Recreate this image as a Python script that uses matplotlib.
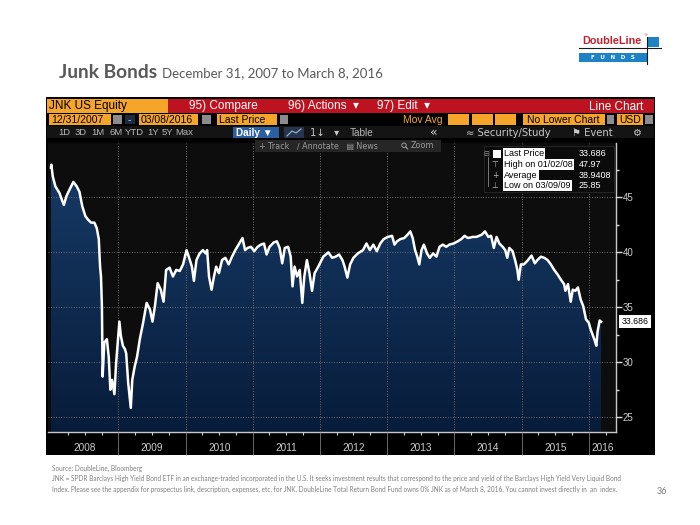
import matplotlib
matplotlib.use('Agg')
import matplotlib.pyplot as plt
import matplotlib.dates as mdates
import matplotlib.transforms as mtransforms
from matplotlib.patches import Rectangle, Circle
from matplotlib.colors import LinearSegmentedColormap
from matplotlib.ticker import AutoMinorLocator
import numpy as np
import pandas as pd

# JNK last price
dates = [
    '2007-12-31', '2008-01-02', '2008-01-10', '2008-01-24', '2008-02-15', '2008-03-10',
    '2008-03-24', '2008-04-10', '2008-05-01', '2008-05-19', '2008-06-03', '2008-06-18',
    '2008-07-05', '2008-07-18', '2008-08-05', '2008-08-23', '2008-09-05', '2008-09-16',
    '2008-09-23', '2008-09-28', '2008-10-03', '2008-10-07', '2008-10-16', '2008-10-30',
    '2008-11-09', '2008-11-18', '2008-11-27', '2008-12-10', '2008-12-19', '2009-01-06',
    '2009-01-14', '2009-01-25', '2009-02-05', '2009-02-12', '2009-02-23', '2009-03-09',
    '2009-03-17', '2009-03-30', '2009-04-12', '2009-04-27', '2009-05-15', '2009-06-03',
    '2009-06-21', '2009-07-05', '2009-07-18', '2009-08-02', '2009-08-19', '2009-09-03',
    '2009-09-17', '2009-10-06', '2009-10-24', '2009-11-11', '2009-11-30', '2009-12-18',
    '2010-01-06', '2010-01-22', '2010-02-04', '2010-02-15', '2010-03-01', '2010-03-18',
    '2010-04-05', '2010-04-20', '2010-04-28', '2010-05-08', '2010-05-22', '2010-06-04',
    '2010-06-16', '2010-07-01', '2010-07-18', '2010-08-05', '2010-08-23', '2010-09-10',
    '2010-09-28', '2010-10-16', '2010-11-06', '2010-11-20', '2010-12-04', '2010-12-22',
    '2011-01-09', '2011-01-27', '2011-02-14', '2011-03-03', '2011-03-17', '2011-04-02',
    '2011-04-25', '2011-05-12', '2011-05-27', '2011-06-10', '2011-06-24', '2011-07-12',
    '2011-07-26', '2011-08-05', '2011-08-16', '2011-08-30', '2011-09-13', '2011-09-27',
    '2011-10-08', '2011-10-22', '2011-11-05', '2011-11-19', '2011-12-03', '2011-12-23',
    '2012-01-19', '2012-02-16', '2012-03-07', '2012-03-26', '2012-04-14', '2012-05-02',
    '2012-05-14', '2012-05-29', '2012-06-13', '2012-07-01', '2012-07-25', '2012-08-22',
    '2012-09-10', '2012-09-28', '2012-10-17', '2012-11-05', '2012-11-24', '2012-12-12',
    '2013-01-04', '2013-01-27', '2013-02-09', '2013-02-23', '2013-03-13', '2013-04-03',
    '2013-04-21', '2013-05-06', '2013-05-19', '2013-06-01', '2013-06-13', '2013-06-24',
    '2013-07-06', '2013-07-19', '2013-08-05', '2013-08-20', '2013-09-07', '2013-09-25',
    '2013-10-12', '2013-10-30', '2013-11-17', '2013-12-05', '2013-12-27', '2014-01-19',
    '2014-02-07', '2014-02-25', '2014-03-15', '2014-04-11', '2014-05-01', '2014-05-29',
    '2014-06-16', '2014-07-04', '2014-07-19', '2014-08-03', '2014-08-18', '2014-09-02',
    '2014-09-20', '2014-10-04', '2014-10-15', '2014-10-26', '2014-11-13', '2014-11-28',
    '2014-12-09', '2014-12-16', '2014-12-28', '2015-01-13', '2015-01-31', '2015-02-24',
    '2015-03-14', '2015-03-28', '2015-04-16', '2015-05-04', '2015-05-22', '2015-06-09',
    '2015-06-27', '2015-07-15', '2015-08-03', '2015-08-20', '2015-08-27', '2015-09-10',
    '2015-09-25', '2015-10-06', '2015-10-20', '2015-11-03', '2015-11-18', '2015-12-02',
    '2015-12-17', '2016-01-01', '2016-01-11', '2016-01-22', '2016-02-02', '2016-02-11',
    '2016-02-18', '2016-02-29', '2016-03-08',
]
prices = [
    47.7, 47.97, 46.9, 46.0, 45.4, 44.3,
    45.1, 45.7, 46.4, 46.0, 45.5, 44.2,
    43.3, 43.0, 42.7, 42.7, 42.2, 41.2,
    38.7, 37.8, 35.1, 28.7, 31.8, 32.1,
    30.5, 27.5, 28.4, 27.1, 29.9, 33.7,
    32.4, 31.5, 31.2, 30.8, 28.1, 25.85,
    28.4, 29.6, 30.5, 32.1, 33.6, 35.4,
    34.8, 33.7, 35.1, 37.2, 36.6, 35.5,
    38.4, 38.6, 37.8, 38.4, 38.3, 38.9,
    40.2, 39.4, 38.7, 37.4, 39.3, 39.9,
    40.2, 39.9, 40.2, 37.8, 36.6, 37.8,
    38.7, 38.1, 39.3, 39.5, 38.9, 39.6,
    40.2, 40.7, 41.3, 40.2, 40.4, 40.5,
    40.1, 40.5, 40.7, 40.8, 39.8, 40.5,
    40.9, 41.0, 40.4, 39.0, 40.4, 40.5,
    39.6, 36.9, 38.7, 37.8, 38.4, 35.4,
    37.8, 39.3, 38.1, 36.5, 38.1, 38.7,
    39.6, 40.0, 39.5, 39.6, 39.8, 39.3,
    38.7, 37.7, 38.9, 39.5, 39.9, 40.2,
    40.8, 40.2, 40.7, 40.1, 40.8, 41.2,
    41.4, 41.5, 40.7, 41.0, 41.2, 41.3,
    41.6, 41.9, 41.3, 40.2, 39.6, 38.9,
    40.2, 40.7, 39.9, 39.5, 39.9, 39.6,
    40.5, 40.7, 40.5, 40.7, 40.8, 41.0,
    41.2, 41.5, 41.3, 41.4, 41.4, 41.6,
    41.9, 41.4, 41.5, 40.4, 41.4, 40.8,
    40.5, 40.2, 39.5, 40.4, 40.1, 39.2,
    38.4, 37.5, 38.9, 38.9, 39.2, 39.7,
    39.0, 39.3, 39.6, 39.5, 39.3, 38.9,
    38.4, 38.0, 37.5, 37.1, 36.5, 37.1,
    35.5, 36.6, 36.5, 36.8, 35.7, 35.1,
    33.9, 33.6, 33.0, 32.5, 32.0, 31.5,
    32.8, 33.8, 33.686,
]

years = ['2008', '2009', '2010', '2011', '2012', '2013', '2014', '2015', '2016']
y_ticks = [25, 30, 35, 40, 45]

legend_labels = ['Last Price', 'High on 01/02/08', 'Average', 'Low on 03/09/09']
legend_values = ['33.686', '47.97', '38.9408', '25.85']

footnote = [
    'Source: DoubleLine, Bloomberg',
    'JNK = SPDR Barclays High Yield Bond ETF in an exchange-traded incorporated in the U.S. It seeks investment '
    'results that correspond to the price and yield of the Barclays High Yield Very Liquid Bond',
    'Index. Please see the appendix for prospectus link, description, expenses, etc. for JNK. DoubleLine Total '
    'Return Bond Fund owns 0% JNK as of March 8, 2016. You cannot invest directly in  an  index.',
]

ORANGE = '#f6a52b'
RED = '#bd1320'
GREY_BOX = '#8c8c8c'
UI_FONT = ['Liberation Sans', 'DejaVu Sans']

fig = plt.figure(figsize=(7, 5.25), dpi=100)
fig.patch.set_facecolor('white')

# pixel-space layer for the slide and the terminal chrome
ui = fig.add_axes([0, 0, 1, 1], zorder=0)
ui.set_xlim(0, 700)
ui.set_ylim(525, 0)
ui.axis('off')


def box(x, y, w, h, color, text=None, tcolor='black', size=7.5, tx=None, weight='normal', layer=None):
    layer = ui if layer is None else layer
    layer.add_patch(Rectangle((x, y), w, h, facecolor=color, edgecolor='none'))
    if text:
        layer.text(x + 2 if tx is None else tx, y + h / 2 + 0.5, text, color=tcolor, fontsize=size,
                   ha='left', va='center', family=UI_FONT, weight=weight)


# --- slide title ---
ui.text(59, 72, 'Junk Bonds', fontsize=13.8, weight='bold', color='#595959', family='Lato', va='center')
ui.text(162, 73.5, 'December 31, 2007 to March 8, 2016', fontsize=9.5, color='#595959', family='Lato', va='center')

# --- DoubleLine logo ---
ui.text(582, 41, 'DoubleLine', fontsize=7.8, weight='bold', color='#c3202e', family='Liberation Sans', va='center')
ui.text(643, 35.5, '®', fontsize=3, color='#c3202e', va='center')
ui.add_patch(Rectangle((579, 53), 68, 9, facecolor='#1d83c6', edgecolor='none'))
ui.add_patch(Rectangle((648, 37), 11, 10, facecolor='#1d83c6', edgecolor='none'))
ui.plot([579, 661], [48, 48], color='#1a1a1a', lw=0.8)
ui.plot([647, 647], [37, 64], color='#1a1a1a', lw=0.8)
ui.text(613, 57.8, 'F   U   N   D   S', fontsize=4, color='white', ha='center', va='center', weight='bold')

# --- terminal panel ---
box(46, 97, 609, 358, 'black')

# row 1
box(47, 99, 121, 14, ORANGE, 'JNK US Equity', size=8.5)
box(168, 99, 486, 14, RED)
for lab, lx in [('95) Compare', 189), ('96) Actions  \u25be', 288), ('97) Edit  \u25be', 377)]:
    ui.text(lx, 106.5, lab, color='white', fontsize=8.5, va='center', family=UI_FONT)
ui.text(643, 106.5, 'Line Chart', color='white', fontsize=8.5, va='center', ha='right', family=UI_FONT)

# row 2
box(49, 114, 62, 11, ORANGE, '12/31/2007')
box(113, 115, 9, 9, GREY_BOX)
box(125, 115, 10, 9, '#1c2a44', '-', tcolor='#cccccc', tx=128)
box(139, 114, 59, 11, ORANGE, '03/08/2016')
box(202, 115, 9, 9, GREY_BOX)
box(217, 114, 60, 11, ORANGE, 'Last Price')
box(280, 115, 8, 9, GREY_BOX)
ui.text(403, 120, 'Mov Avg', color=ORANGE, fontsize=7.5, va='center', family=UI_FONT)
for bx in (448, 472, 495):
    box(bx, 114, 21, 11, ORANGE)
box(523, 114, 82, 11, ORANGE, 'No Lower Chart', tx=527)
box(607, 115, 7, 9, GREY_BOX)
box(617, 114, 26, 11, ORANGE, 'USD')
box(645, 115, 8, 9, GREY_BOX)

# row 3
box(47, 126, 607, 12, '#141414')
for lab, lx in zip(['1D', '3D', '1M', '6M', 'YTD', '1Y', '5Y', 'Max'],
                   [64, 81, 98, 116, 134, 153, 167, 184]):
    ui.text(lx, 132.5, lab, color='#b8b8b8', fontsize=6.8, va='center', ha='center', family=UI_FONT)
box(233, 127, 46, 11, '#2c5f9e', 'Daily \u25bc', tcolor='white', size=7.2, weight='bold', tx=236)
box(284, 127, 20, 11, '#26354d')
ui.plot([287, 292, 296, 301], [136, 131, 133, 129], color='#9fb8d8', lw=0.8)
ui.text(310, 132.5, '1\u2193   \u25be', color='#c8c8c8', fontsize=7.2, va='center', family='DejaVu Sans')
ui.text(350, 132.5, 'Table', color='#b8b8b8', fontsize=7.2, va='center', family=UI_FONT)
ui.text(430, 132.5, '\u00ab', color='#d0d0d0', fontsize=9, va='center', family='DejaVu Sans')
ui.text(466, 132.5, '\u2248 Security/Study', color='#c8c8c8', fontsize=7.2, va='center', family='DejaVu Sans')
ui.text(572, 132.5, '\u2691 Event', color='#c8c8c8', fontsize=7.2, va='center', family='DejaVu Sans')
ui.text(632, 132.5, '\u2699', color='#c8c8c8', fontsize=7.2, va='center', family='DejaVu Sans')

# --- footnote and page number ---
ui.text(52, 468, footnote[0], fontsize=4.7, color='#7f7f7f', va='center', family='Lato')
ui.text(52, 478.5, footnote[1], fontsize=4.7, color='#7f7f7f', va='center', family='Lato')
ui.text(52, 489, footnote[2], fontsize=4.7, color='#7f7f7f', va='center', family='Lato')
ui.text(657, 492, '36', fontsize=6.5, color='#7f7f7f', va='center', family='Lato')

# --- the chart itself ---
ax = fig.add_axes([48 / 700, 1 - 432 / 525, 568 / 700, 289 / 525], zorder=1)
ax.set_facecolor('#0d0d0d')

d = pd.to_datetime(dates)
x_min = pd.Timestamp('2007-12-15')
x_max = pd.Timestamp('2016-05-28')
y_min, y_max = 23.66, 49.94

fill = ax.fill_between(d, prices, 0, facecolor='none', edgecolor='none')
grad = np.linspace(0, 1, 256).reshape(-1, 1)
navy = LinearSegmentedColormap.from_list('navy', ['#081c3a', '#163a66'])
im = ax.imshow(grad, extent=[mdates.date2num(x_min), mdates.date2num(x_max), y_min, 48],
               origin='lower', aspect='auto', cmap=navy, zorder=1)
im.set_clip_path(fill.get_paths()[0], transform=ax.transData)
ax.plot(d, prices, color='white', lw=1.8, zorder=3, solid_joinstyle='round')

ax.set_xlim(x_min, x_max)
ax.set_ylim(y_min, y_max)

# grid
year_starts = [pd.Timestamp(f'{y}-01-01') for y in years[1:]]
ax.set_xticks(year_starts)
ax.xaxis.set_minor_locator(mdates.MonthLocator(bymonth=[4, 7, 10]))
ax.set_yticks(y_ticks)
ax.yaxis.set_minor_locator(AutoMinorLocator(2))
ax.grid(True, which='major', color='#6b6b6b', ls=(0, (1, 1.6)), lw=0.7, zorder=2)
ax.set_axisbelow(False)

for s in ['top', 'left']:
    ax.spines[s].set_visible(False)
for s in ['right', 'bottom']:
    ax.spines[s].set_color('#c8c8c8')
    ax.spines[s].set_linewidth(1.0)

ax.yaxis.tick_right()
ax.tick_params(axis='y', which='major', direction='out', length=4, width=1, color='#dcdcdc',
               labelcolor='#d0d0d0', labelsize=7, pad=1)
ax.tick_params(axis='y', which='minor', direction='out', length=2.5, width=1, color='#dcdcdc')
ax.tick_params(axis='x', which='major', direction='out', length=16.5, width=0.6, color='#7a7a7a',
               labelbottom=False)
ax.tick_params(axis='x', which='minor', direction='out', length=2.5, width=0.8, color='#cfcfcf')
for lab in ax.get_yticklabels():
    lab.set_family(UI_FONT)

# year labels centred in the visible part of each year
trans = mtransforms.blended_transform_factory(ax.transData, ax.transAxes)
for y in years:
    start = max(pd.Timestamp(f'{y}-01-01'), x_min)
    end = min(pd.Timestamp(f'{int(y) + 1}-01-01'), x_max)
    mid = start + (end - start) / 2
    ax.text(mid, -0.055, y, transform=trans, ha='center', va='center', fontsize=7.2,
            color='#cfcfcf', family=UI_FONT, clip_on=False)

# last price tag on the axis
ax.annotate(f'{prices[-1]:.3f}', xy=(1.0, prices[-1]), xycoords=('axes fraction', 'data'),
            xytext=(4, 0), textcoords='offset points', va='center', ha='left', fontsize=6.3,
            color='black', family=UI_FONT, annotation_clip=False,
            bbox=dict(boxstyle='square,pad=0.25', facecolor='white', edgecolor='none'))

# --- layer above the chart: toolbar row 4 and the legend box ---
top = fig.add_axes([0, 0, 1, 1], zorder=2)
top.set_xlim(0, 700)
top.set_ylim(525, 0)
top.axis('off')

box(255, 140, 186, 12, '#262626', layer=top)
top.text(259, 146, '+ Track   \u2215 Annotate   \u25a4 News', color='#9a9a9a', fontsize=5.8,
         va='center', family='DejaVu Sans')
top.add_patch(Circle((404, 145.3), 2.2, facecolor='none', edgecolor='#9a9a9a', lw=0.7))
top.plot([405.6, 407.6], [146.9, 148.9], color='#9a9a9a', lw=0.8)
top.text(411, 146, 'Zoom', color='#9a9a9a', fontsize=5.8, va='center', family='DejaVu Sans')

top.add_patch(Rectangle((484, 146), 130, 46, facecolor='#0b0b0b', edgecolor='#2a2a2a', lw=0.6))
rows_y = [154, 164.5, 175, 185.5]
top.add_patch(Rectangle((493, 150), 8, 8, facecolor='white', edgecolor='none'))
top.plot([488, 488], [157, 186], color='#8a8a8a', lw=0.6)
top.text(486, 154, '\u229f', color='#9a9a9a', fontsize=5, ha='center', va='center', family='DejaVu Sans')
for sym, yy in zip(['\u22a4', '+', '\u22a5'], rows_y[1:]):
    top.text(495, yy, sym, color='#bbbbbb', fontsize=5.5, ha='center', va='center', family='DejaVu Sans')
for lab, val, yy in zip(legend_labels, legend_values, rows_y):
    top.text(504, yy, lab, color='black', fontsize=6.5, va='center', family=UI_FONT,
             bbox=dict(boxstyle='square,pad=0.12', facecolor='white', edgecolor='none'))
    top.text(579, yy, val, color='white', fontsize=6.5, va='center', family=UI_FONT)

fig.savefig('out.png', dpi=100, facecolor='white')
